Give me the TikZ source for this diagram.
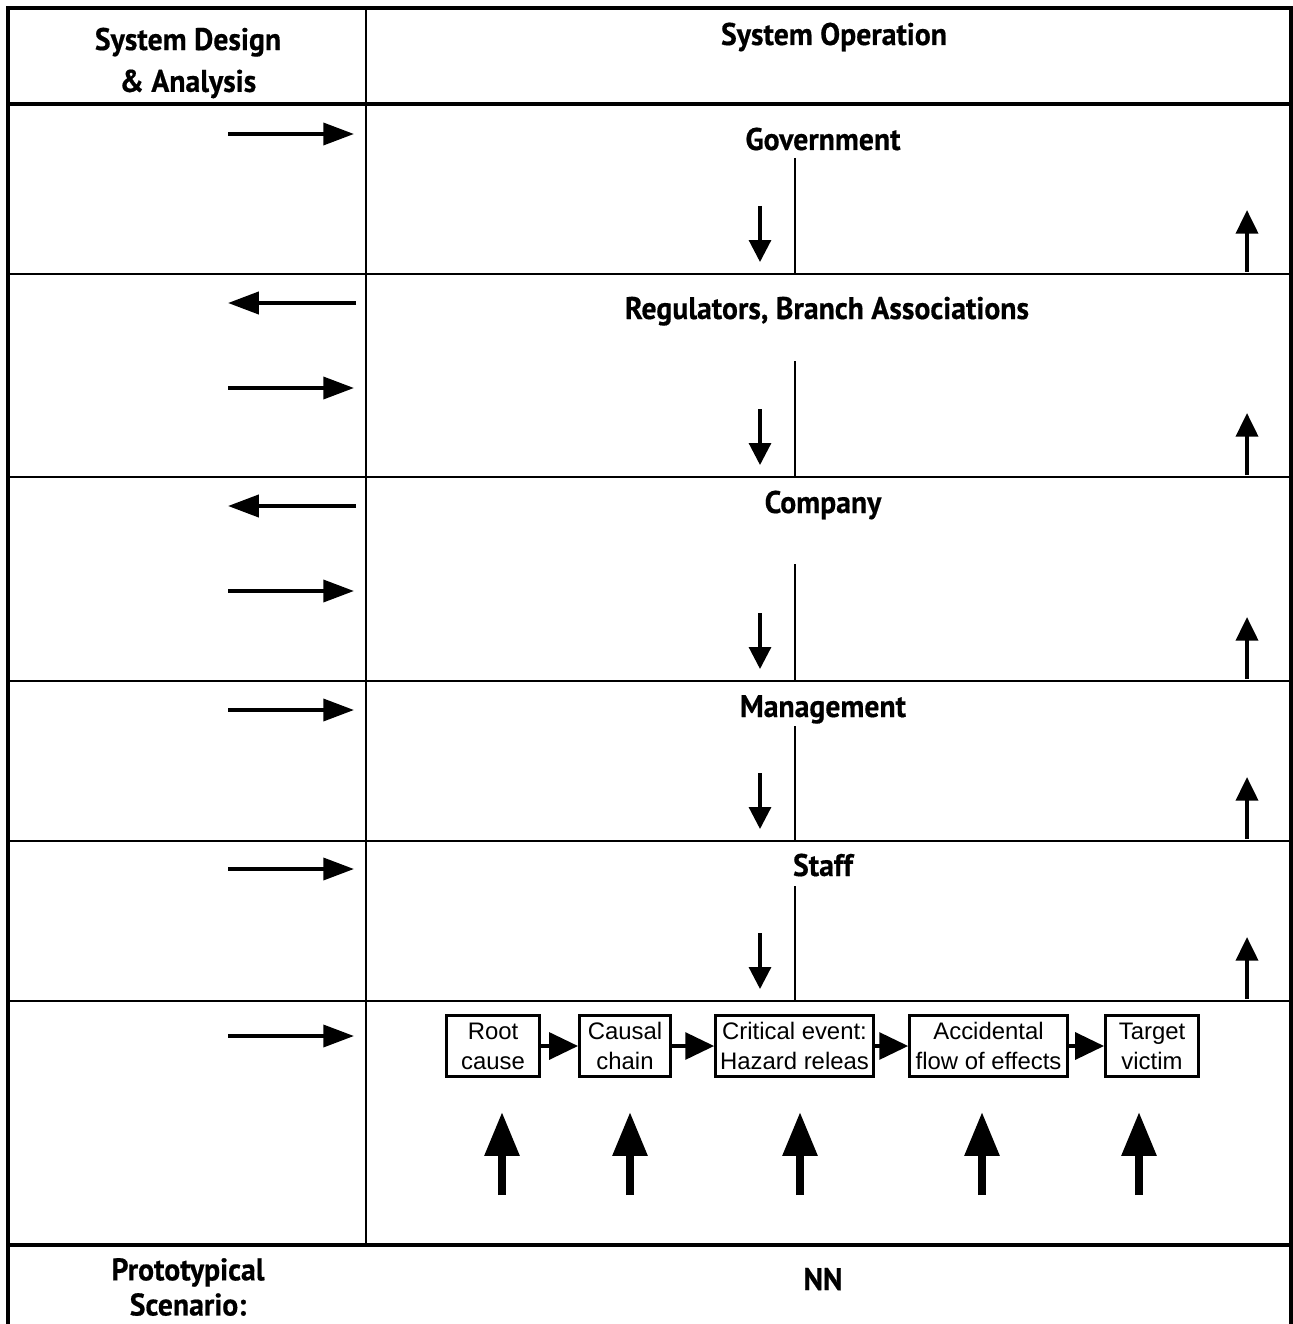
\documentclass[tikz,border=0pt]{standalone}
\usepackage{fontspec}
\setmainfont{Liberation Sans}
\newfontfamily\headfont[FakeStretch=0.95,FakeBold=0.5]{PT Sans}
\usetikzlibrary{arrows.meta}
\tikzset{
  frame/.style={line width=2.3pt, draw=black, line join=miter},
  boldrule/.style={line width=2.3pt, draw=black},
  rule/.style={line width=1.1pt, draw=black},
  headtext/.style={font=\headfont\bfseries\fontsize{17.8}{23.8}\selectfont, align=center, inner sep=0pt},
  sidearrow/.style={line width=2.2pt, draw=black, -{Triangle[length=17.5pt,width=12.5pt]}},
  downarrow/.style={line width=1.8pt, draw=black, -{Triangle[length=12.5pt,width=12.5pt]}},
  uparrow/.style={line width=2.3pt, draw=black, -{Triangle[length=13.5pt,width=12.5pt]}},
  bigarrow/.style={line width=4.5pt, draw=black, -{Triangle[length=25pt,width=19pt]}},
  chainarrow/.style={line width=2.8pt, draw=black, -{Triangle[length=16.5pt,width=15pt]}},
  stepbox/.style={draw=black, line width=1.7pt, minimum height=34.6pt, inner sep=0pt, align=center,
    font=\fontsize{13.6}{17}\selectfont},
}

\begin{document}
\begin{tikzpicture}[x=0.02cm,y=-0.02cm]
\useasboundingbox (0,0) rectangle (1293,1324);
% table
\draw[frame] (8,1330) -- (8,8) -- (1291,8) -- (1291,1330);
\draw[boldrule] (8,104) -- (1291,104);
\draw[boldrule] (8,1245) -- (1291,1245);
\draw[rule] (366,8) -- (366,1245);
\foreach \y in {274,477,681,841,1001}
  \draw[rule] (8,\y) -- (1291,\y);

% headings
\node[headtext] (design) at (188,63) {System Design\\\& Analysis};
\node[headtext, anchor=base] (operation) at (834,45) {System Operation};
\node[headtext, anchor=base] (gov) at (823,150) {Government};
\node[headtext, anchor=base] (reg) at (827,319) {Regulators, Branch Associations};
\node[headtext, anchor=base] (comp) at (823,513) {Company};
\node[headtext, anchor=base] (mgmt) at (823,717) {Management};
\node[headtext, anchor=base] (staff) at (823,876) {Staff};
\node[headtext, font=\headfont\bfseries\fontsize{17.8}{20}\selectfont] (proto) at (188,1287) {Prototypical\\Scenario:};
\node[headtext, anchor=base] (nn) at (823,1290) {NN};

% levels: divider, control down, feedback up
\foreach \top/\bot in {158/274, 361/477, 564/681, 726/841, 886/1001} {
  \draw[rule] (795,\top) -- (795,\bot);
  \draw[downarrow] (760,\bot-68) -- (760,\bot-12);
  \draw[uparrow] (1247,\bot-2) -- (1247,\bot-64);
}

% design and analysis arrows
\foreach \y in {134,388,591,710,869,1036}
  \draw[sidearrow] (228,\y) -- (354,\y);
\foreach \y in {303,506}
  \draw[sidearrow] (356,\y) -- (228,\y);

% accident scenario
\node[stepbox, minimum width=52.7pt] (root) at (493,1046) {Root\\cause};
\node[stepbox, minimum width=51.6pt] (chain) at (625,1046) {Causal\\chain};
\node[stepbox, minimum width=89.6pt] (event) at (794.5,1046) {Critical event:\\Hazard releas};
\node[stepbox, minimum width=89.6pt] (flow) at (988.5,1046) {Accidental\\flow of effects};
\node[stepbox, minimum width=52.7pt] (victim) at (1152,1046) {Target\\victim};
\draw[chainarrow] (root) -- (chain);
\draw[chainarrow] (chain) -- (event);
\draw[chainarrow] (event) -- (flow);
\draw[chainarrow] (flow) -- (victim);
\foreach \x in {502,630,800,982,1139}
  \draw[bigarrow] (\x,1195) -- (\x,1112);
\end{tikzpicture}
\end{document}
